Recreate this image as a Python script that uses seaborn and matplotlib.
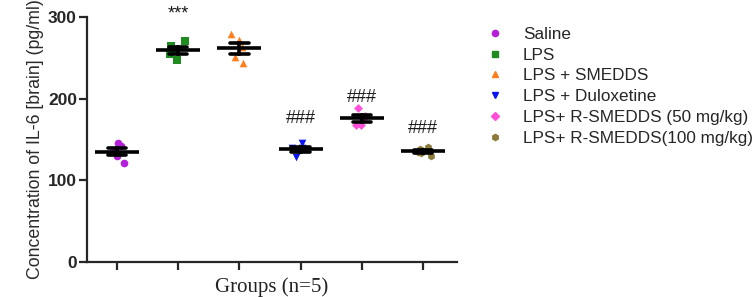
import numpy as np
import pandas as pd
import seaborn as sns
import matplotlib.pyplot as plt
from matplotlib.lines import Line2D

# Data (pg/ml)
groups = ["Saline", "LPS", "LPS + SMEDDS", "LPS + Duloxetine",
          "LPS+ R-SMEDDS (50 mg/kg)", "LPS+ R-SMEDDS(100 mg/kg)"]
saline = [146, 142, 135, 130, 121]
lps = [271, 264, 259, 254, 247]
lps_smedds = [279, 272, 263, 251, 243]
lps_dulox = [146, 140, 139, 128, 136]
r_smedds_50 = [189, 179, 168, 168, 175]
r_smedds_100 = [141, 138, 135, 133, 130]
sig_labels = ["", "***", "", "###", "###", "###"]

colors = ["#B41FD9", "#1E8C1E", "#FF7F1E", "#0A14F5", "#FF4FD8", "#8C7A3A"]
markers = ["o", "s", "^", "v", "D", "h"]

values = [saline, lps, lps_smedds, lps_dulox, r_smedds_50, r_smedds_100]
df = pd.DataFrame({
    "group": np.repeat(groups, 5),
    "pos": np.repeat(np.arange(len(groups)), 5),
    "value": np.concatenate(values),
})

sns.set_style("ticks")
plt.rcParams["font.family"] = ["Liberation Sans", "DejaVu Sans"]

fig = plt.figure(figsize=(7.54, 2.97), dpi=100)
ax = fig.add_axes([0.115, 0.118, 0.491, 0.825])

# individual points (fixed seed so the jitter is repeatable)
np.random.seed(3)
for i, g in enumerate(groups):
    sub = df[df["group"] == g]
    sns.stripplot(data=sub, x="pos", y="value", native_scale=True, ax=ax,
                  color=colors[i], marker=markers[i], jitter=0.15,
                  size=5.5 if markers[i] != "D" else 4.5, linewidth=0,
                  zorder=2)

# mean line + SEM
sns.pointplot(data=df, x="pos", y="value", native_scale=True, ax=ax,
              errorbar="se", color="black", marker="_", markersize=31,
              markeredgewidth=2.6, linestyle="none", capsize=0.3,
              err_kws={"linewidth": 2.6}, zorder=5)

# significance marks
sig_y = {1: 303, 3: 176, 4: 201, 5: 164}
for i, lab in enumerate(sig_labels):
    if lab:
        ax.text(i, sig_y[i], lab, ha="center", va="center", fontsize=13,
                color="#1a1a1a", clip_on=False)

ax.set_xlim(-0.49, 5.55)
ax.set_ylim(0, 300)
ax.set_yticks([0, 100, 200, 300])
ax.set_xticks(range(len(groups)))
ax.set_xticklabels([])
for lbl in ax.get_yticklabels():
    lbl.set_fontweight("bold")
ax.tick_params(axis="both", length=6, width=1.6, labelsize=12.5, pad=1)
for side in ["left", "bottom"]:
    ax.spines[side].set_linewidth(1.6)
sns.despine(ax=ax)

ax.set_ylabel("Concentration of IL-6 [brain] (pg/ml)", fontsize=12.8,
              color="#2a2a2a", labelpad=3)
ax.set_xlabel("Groups (n=5)", fontsize=15, family=["Liberation Serif"],
              color="#222222", labelpad=4)

handles = [Line2D([], [], marker=m, color=c, linestyle="none", markersize=4.5)
           for m, c in zip(markers, colors)]
fig.legend(handles, groups, loc="upper left", bbox_to_anchor=(0.645, 0.91),
           frameon=False, fontsize=12.3, handlelength=1.0, handletextpad=1.15,
           labelspacing=0.34, borderpad=0, borderaxespad=0)

fig.savefig("out.png", dpi=100)
